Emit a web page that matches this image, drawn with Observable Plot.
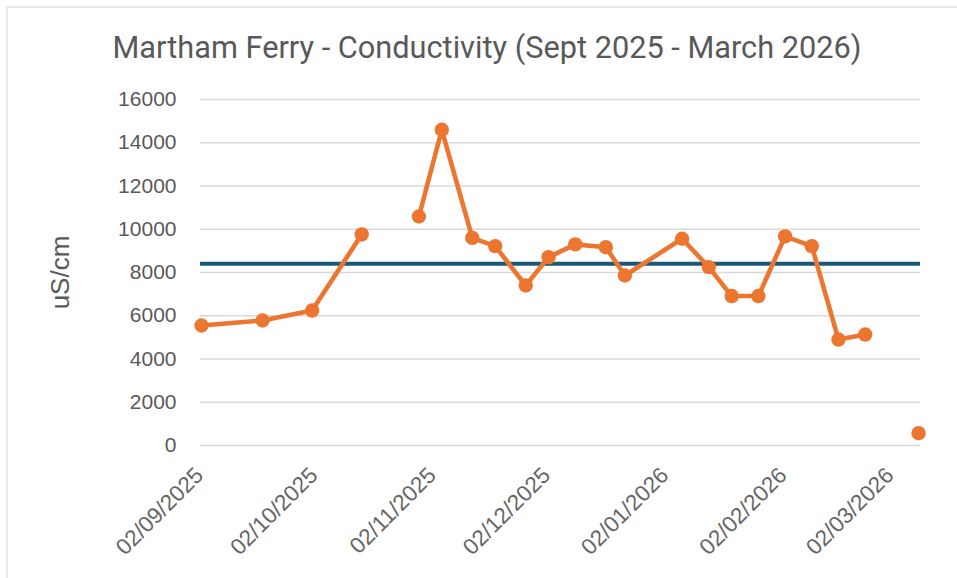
<!DOCTYPE html>
<html><head><meta charset="utf-8">
<script src="https://cdn.jsdelivr.net/npm/d3@7"></script>
<script src="https://cdn.jsdelivr.net/npm/@observablehq/plot@0.6"></script>
<style>
body{margin:0;background:#fff;}
#wrap{position:relative;width:957px;height:578px;overflow:hidden;background:#fff;}
#frame{position:absolute;left:6px;top:6px;width:980px;height:600px;border-left:2px solid #e8e8e8;border-top:2px solid #e8e8e8;}
#title{position:absolute;left:0;width:974px;text-align:center;top:33px;font-family:Roboto,sans-serif;font-size:25px;line-height:30px;color:#595959;white-space:nowrap;}
#chart svg{position:absolute;left:0;top:0;}
</style></head>
<body><div id="wrap"><div id="frame"></div><div id="chart"></div><div id="title"><span id="tt"></span></div></div>
<script>
const titleText = "Martham Ferry - Conductivity (Sept 2025 - March 2026)";
const yTitle = "uS/cm";
// sample dates (null value = missing sample, breaks the line)
const sampleDates = ["2025-09-02","2025-09-18","2025-10-01","2025-10-14","2025-10-21","2025-10-29","2025-11-04","2025-11-12","2025-11-18","2025-11-26","2025-12-02","2025-12-09","2025-12-17","2025-12-22","2026-01-06","2026-01-13","2026-01-19","2026-01-26","2026-02-02","2026-02-09","2026-02-16","2026-02-23","2026-03-02","2026-03-09"];
const conductivity = [5550,5780,6240,9760,null,10590,14600,9600,9220,7400,8710,9300,9170,7860,9560,8250,6910,6910,9670,9220,4900,5130,null,570];
const thresholdValue = [8400];
const xTickDates = ["2025-09-02","2025-10-02","2025-11-02","2025-12-02","2026-01-02","2026-02-02","2026-03-02"];
const yTickValues = [0,2000,4000,6000,8000,10000,12000,14000,16000];

const parse = d3.utcParse("%Y-%m-%d");
const data = sampleDates.map((d,i)=>({date: parse(d), value: conductivity[i]}));
const ticks = xTickDates.map(parse);
const DAY = 864e5;
const x0 = new Date(parse(sampleDates[0]).getTime() - 0.26*DAY);
const x1 = new Date(parse(sampleDates[sampleDates.length-1]).getTime() + 0.5*DAY);

const orange = "#EC7530", blue = "#1B5878", grey = "#595959";
const fmt = d3.utcFormat("%d/%m/%Y");

const chart = Plot.plot({
  width: 957, height: 578,
  marginLeft: 200, marginRight: 37, marginTop: 99, marginBottom: 133,
  style: {fontFamily: "'Liberation Sans', Arial, sans-serif", color: grey, background: "transparent"},
  x: {type: "utc", domain: [x0, x1]},
  y: {domain: [0, 16000]},
  marks: [
    Plot.gridY(yTickValues, {stroke: "#d9d9d9", strokeOpacity: 1, strokeWidth: 1.6}),
    Plot.axisY(yTickValues, {tickSize: 0, tickPadding: 24, fontSize: 21, fill: grey, tickFormat: d => String(d), label: null}),
    Plot.text([yTitle], {frameAnchor: "left", textAnchor: "middle", dx: -140, rotate: -90, fontSize: 26, fill: grey}),
    Plot.axisX(ticks, {tickSize: 0, tickRotate: -45, fontSize: 22.5, fill: "#666666", tickFormat: fmt, tickPadding: 26, dx: -2, label: null}),
    Plot.ruleY(thresholdValue, {stroke: blue, strokeWidth: 4}),
    Plot.line(data, {x: "date", y: "value", stroke: orange, strokeWidth: 4.6, strokeLinejoin: "round"}),
    Plot.dot(data, {x: "date", y: "value", r: 7.2, fill: orange, stroke: "none"})
  ]
});
document.getElementById("chart").appendChild(chart);
const tt = document.getElementById("tt");
tt.textContent = titleText;
const w = tt.getBoundingClientRect().width;
const fs = 25 * 749 / w;
document.getElementById("title").style.fontSize = fs.toFixed(2) + "px";
</script>
</body></html>
